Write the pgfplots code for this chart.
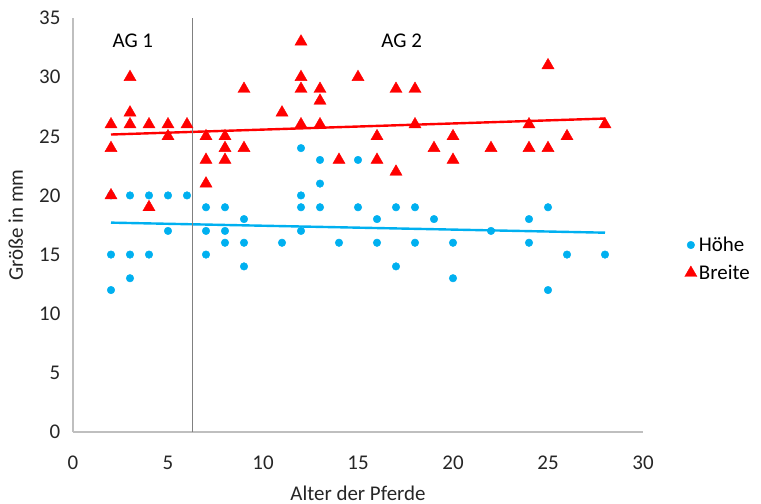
\documentclass[border=0pt]{standalone}
\usepackage{pgfplots}
\pgfplotsset{compat=1.18}
\usepackage{fontspec}
\setmainfont{Carlito}
\definecolor{hblue}{HTML}{00B0F0}
\definecolor{bred}{HTML}{FF0000}
\definecolor{axgray}{HTML}{BFBFBF}
\definecolor{txt}{HTML}{262626}
\begin{document}
\begin{tikzpicture}
\begin{axis}[
  scale only axis,
  width=570bp, height=414bp,
  xmin=0, xmax=30, ymin=0, ymax=35,
  xtick={0,5,...,30}, ytick={0,5,...,35},
  axis x line=bottom, axis y line=left,
  axis line style={draw=axgray, line width=1.2bp, -},
  tick style={draw=none},
  /pgf/number format/assume math mode=true,
  ticklabel style={font=\fontsize{21}{25}\selectfont, text=txt},
  xticklabel style={yshift=-18bp},
  yticklabel style={xshift=-7bp},
  xlabel={Alter der Pferde},
  ylabel={Größe in mm},
  label style={font=\fontsize{21}{25}\selectfont, text=txt},
  xlabel style={at={(rel axis cs:0.5,0)}, anchor=base, yshift=-68bp},
  ylabel style={at={(rel axis cs:0,0.5)}, anchor=base, yshift=50bp},
  clip=false,
  legend style={draw=none, fill=none, at={(rel axis cs:1.073,0.418)}, anchor=west,
    font=\fontsize{21}{25}\selectfont, row sep=8bp, inner sep=0pt,
    nodes={inner xsep=2bp},
    /tikz/every even column/.append style={column sep=16bp}},
  legend cell align=left,
]
\coordinate (sw) at (rel axis cs:0,0);
\coordinate (ne) at (rel axis cs:1,1);
\addplot[only marks, mark=*, mark size=3.8bp, color=hblue] coordinates {
(2,20)(2,15)(2,12)
(3,20)(3,15)(3,13)
(4,20)(4,15)
(5,20)(5,17)
(6,20)
(7,19)(7,17)(7,15)
(8,19)(8,17)(8,16)
(9,18)(9,16)(9,14)
(11,16)
(12,24)(12,20)(12,19)(12,17)
(13,23)(13,21)(13,19)
(14,16)
(15,23)(15,19)
(16,18)(16,16)
(17,19)(17,14)
(18,19)(18,16)
(19,18)
(20,16)(20,13)
(22,17)
(24,18)(24,16)
(25,19)(25,12)
(26,15)
(28,15)
};
\addlegendentry{Höhe}
\addplot[only marks, mark=triangle*, mark size=7bp, color=bred] coordinates {
(2,26)(2,24)(2,20)
(3,30)(3,27)(3,26)
(4,26)(4,19)
(5,26)(5,25)
(6,26)
(7,25)(7,23)(7,21)
(8,25)(8,24)(8,23)
(9,29)(9,24)
(11,27)
(12,33)(12,30)(12,29)(12,26)
(13,29)(13,28)(13,26)
(14,23)
(15,30)
(16,25)(16,23)
(17,29)(17,22)
(18,29)(18,26)
(19,24)
(20,25)(20,23)
(22,24)
(24,26)(24,24)
(25,31)(25,24)
(26,25)
(28,26)
};
\addlegendentry{Breite}
\addplot[forget plot, color=bred, line width=2.4bp] coordinates {(2,25.15)(28,26.5)};
\addplot[forget plot, color=hblue, line width=2.4bp] coordinates {(2,17.7)(28,16.85)};
\addplot[forget plot, color=gray, line width=1.3bp] coordinates {(6.3,0)(6.3,35)};
\node[font=\fontsize{21}{25}\selectfont, text=black] at (axis cs:3.15,33.1) {AG 1};
\node[font=\fontsize{21}{25}\selectfont, text=black] at (axis cs:17.3,33.1) {AG 2};
\end{axis}
\pgfresetboundingbox
\path (sw) ++(-73bp,-72bp) rectangle ([shift={(118bp,18bp)}]ne);
\end{tikzpicture}
\end{document}
